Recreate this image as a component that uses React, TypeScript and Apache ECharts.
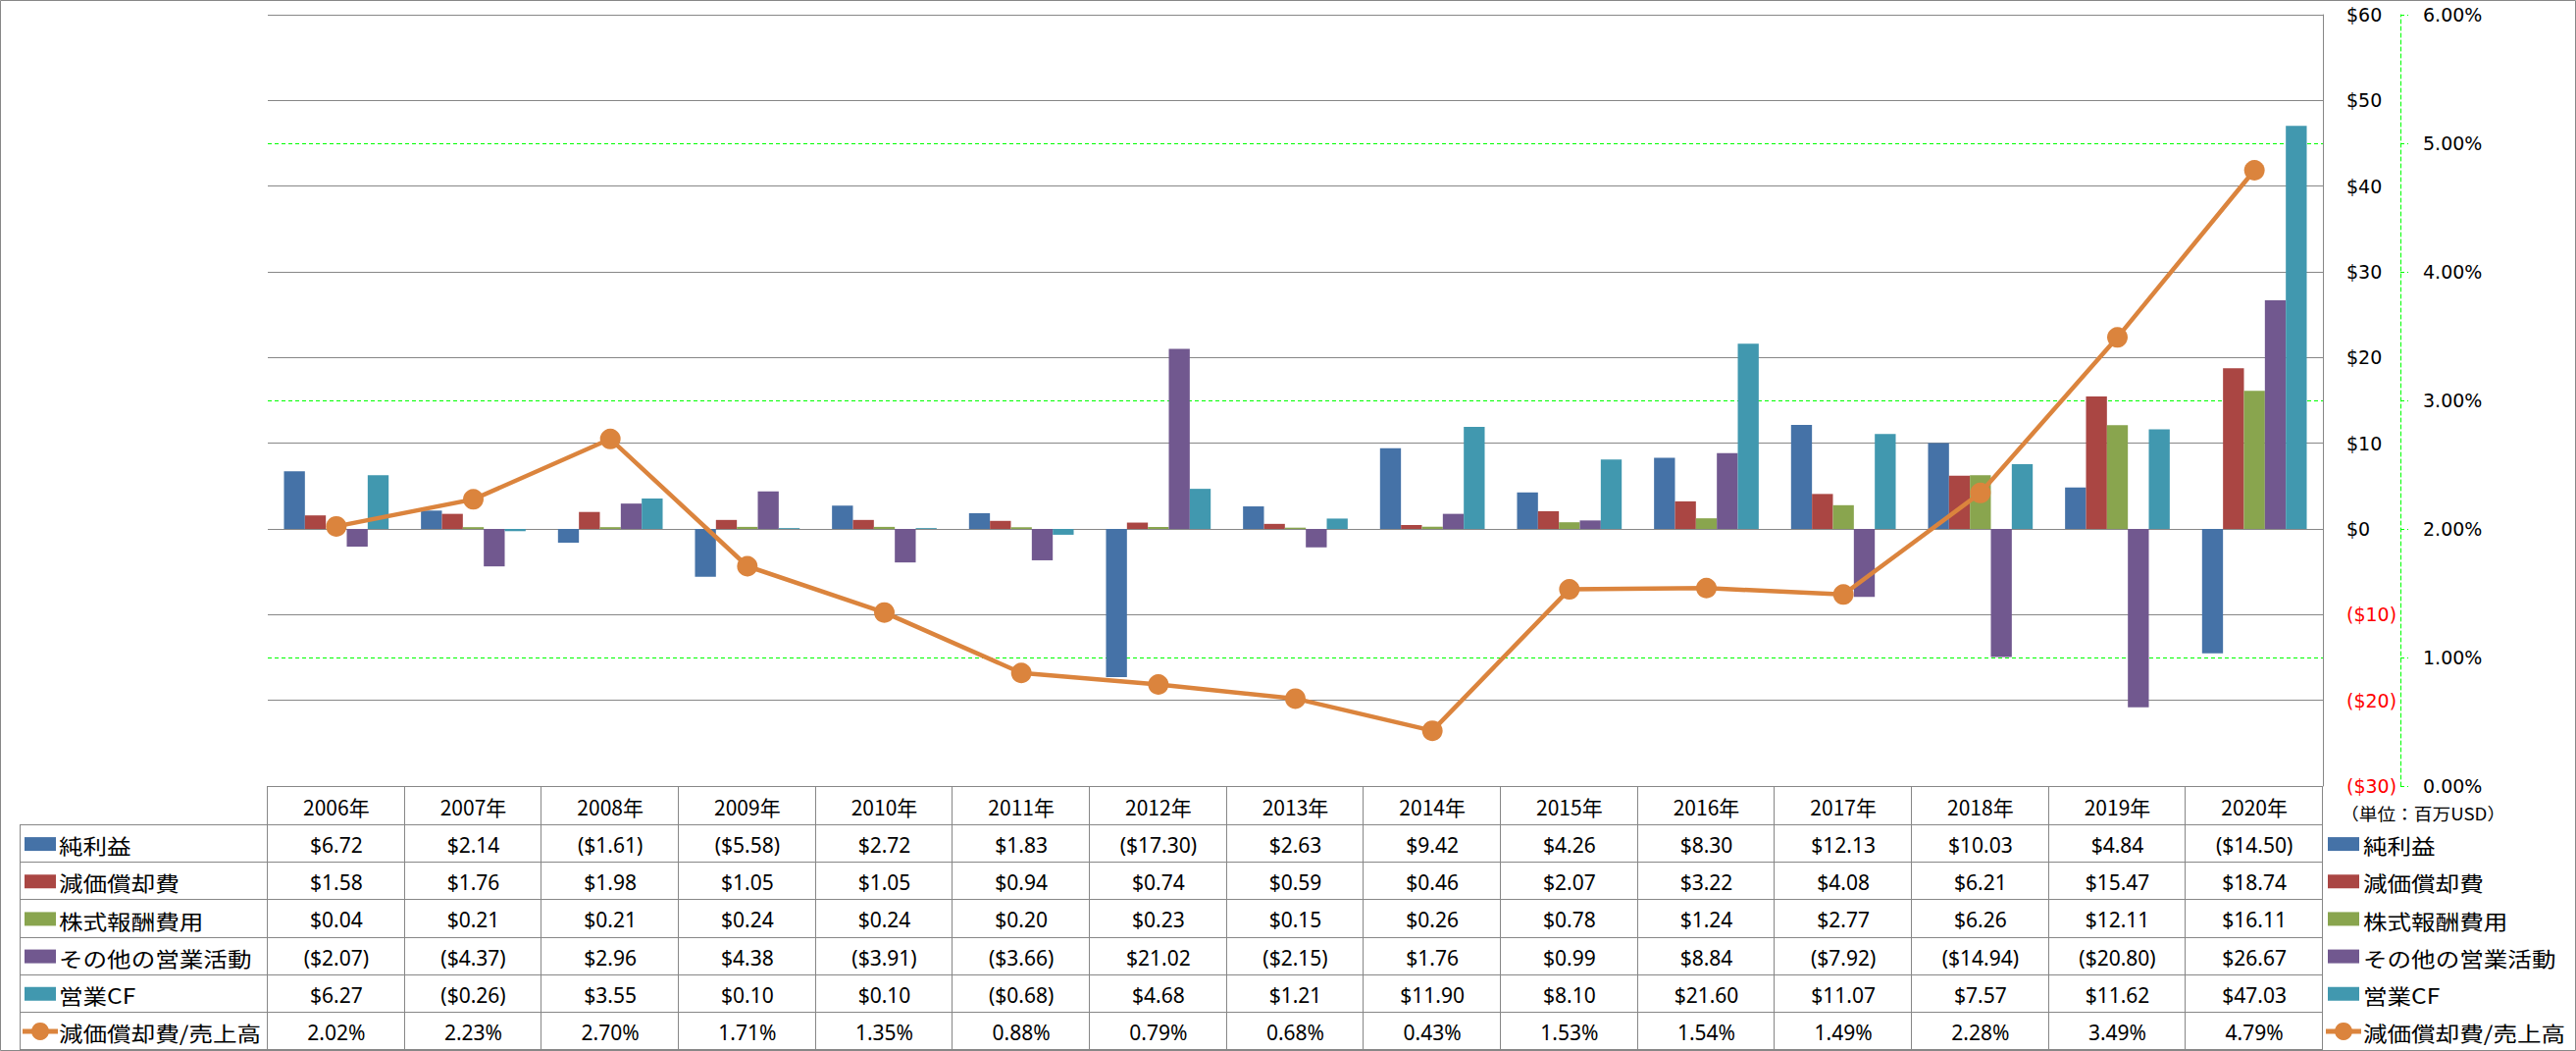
import React, { useEffect, useRef } from "react";
import * as echarts from "echarts";

const years = ["2006年","2007年","2008年","2009年","2010年","2011年","2012年","2013年","2014年","2015年","2016年","2017年","2018年","2019年","2020年"];
const netIncome = [6.72, 2.14, -1.61, -5.58, 2.72, 1.83, -17.30, 2.63, 9.42, 4.26, 8.30, 12.13, 10.03, 4.84, -14.50];
const depreciation = [1.58, 1.76, 1.98, 1.05, 1.05, 0.94, 0.74, 0.59, 0.46, 2.07, 3.22, 4.08, 6.21, 15.47, 18.74];
const stockComp = [0.04, 0.21, 0.21, 0.24, 0.24, 0.20, 0.23, 0.15, 0.26, 0.78, 1.24, 2.77, 6.26, 12.11, 16.11];
const otherOps = [-2.07, -4.37, 2.96, 4.38, -3.91, -3.66, 21.02, -2.15, 1.76, 0.99, 8.84, -7.92, -14.94, -20.80, 26.67];
const operatingCF = [6.27, -0.26, 3.55, 0.10, 0.10, -0.68, 4.68, 1.21, 11.90, 8.10, 21.60, 11.07, 7.57, 11.62, 47.03];
const depToSales = [2.02, 2.23, 2.70, 1.71, 1.35, 0.88, 0.79, 0.68, 0.43, 1.53, 1.54, 1.49, 2.28, 3.49, 4.79];

const barNames = ["純利益", "減価償却費", "株式報酬費用", "その他の営業活動", "営業CF"];
const lineName = "減価償却費/売上高";
const unitLabel = "（単位：百万USD）";

const barColors = ["#4572A7", "#AA4643", "#89A54E", "#71588F", "#4198AF"];
const lineColor = "#DB843D";

const W = 2626;
const H = 1071;
const GL = 273;
const GR = 2368;
const GT = 15;
const GB = 801;
const TABLE_BOTTOM = 1070;
const HEADER_BOTTOM = 841;
const LABEL_LEFT = 20;
const GRID_COLOR = "#878787";
const TXT_FONT = "'Noto Sans', 'Noto Sans CJK JP', sans-serif";
const CJK_FONT = "'Noto Sans CJK JP', 'Noto Sans', sans-serif";

const fmtMoney = (v: number) => (v < 0 ? `($${Math.abs(v).toFixed(2)})` : `$${v.toFixed(2)}`);
const fmtPct = (v: number) => `${v.toFixed(2)}%`;

function buildGraphics() {
  const els: any[] = [];
  const n = years.length;
  const colW = (GR - GL) / n;
  const rowH = (TABLE_BOTTOM - HEADER_BOTTOM) / 6;
  const line = (x1: number, y1: number, x2: number, y2: number) =>
    els.push({ type: "line", silent: true, z: 10, shape: { x1, y1, x2, y2 }, style: { stroke: GRID_COLOR, lineWidth: 1 } });

  // outer border
  els.push({ type: "rect", silent: true, z: 0, shape: { x: 0.5, y: 0.5, width: W - 1, height: H - 1 }, style: { fill: "none", stroke: GRID_COLOR, lineWidth: 1 } });

  // horizontal table lines
  line(GL, GB + 0.5, GR, GB + 0.5);
  for (let r = 0; r <= 6; r++) {
    const y = Math.round(HEADER_BOTTOM + r * rowH) - 0.5;
    line(LABEL_LEFT, y, GR, y);
  }
  // vertical lines
  line(LABEL_LEFT + 0.5, HEADER_BOTTOM, LABEL_LEFT + 0.5, TABLE_BOTTOM);
  for (let k = 0; k <= n; k++) {
    const x = Math.round(GL + k * colW) - 0.5;
    line(x, GB, x, TABLE_BOTTOM);
  }

  // header texts
  years.forEach((y, i) => {
    els.push({ type: "text", silent: true, z: 11, x: GL + (i + 0.5) * colW, y: (GB + HEADER_BOTTOM) / 2 + 1,
      style: { text: y, fill: "#000", fontSize: 21, fontFamily: CJK_FONT, align: "center", verticalAlign: "middle" } });
  });

  const rows: { name: string; vals: string[]; color: string; isLine?: boolean }[] = [
    { name: barNames[0], vals: netIncome.map(fmtMoney), color: barColors[0] },
    { name: barNames[1], vals: depreciation.map(fmtMoney), color: barColors[1] },
    { name: barNames[2], vals: stockComp.map(fmtMoney), color: barColors[2] },
    { name: barNames[3], vals: otherOps.map(fmtMoney), color: barColors[3] },
    { name: barNames[4], vals: operatingCF.map(fmtMoney), color: barColors[4] },
    { name: lineName, vals: depToSales.map(fmtPct), color: lineColor, isLine: true },
  ];

  const key = (x: number, cy: number, color: string, isLine?: boolean) => {
    if (isLine) {
      els.push({ type: "line", silent: true, z: 11, shape: { x1: x - 2, y1: cy, x2: x + 34, y2: cy }, style: { stroke: color, lineWidth: 5 } });
      els.push({ type: "circle", silent: true, z: 12, shape: { cx: x + 16, cy, r: 9 }, style: { fill: color } });
    } else {
      els.push({ type: "rect", silent: true, z: 11, shape: { x, y: cy - 7, width: 32, height: 14 }, style: { fill: color } });
    }
  };

  rows.forEach((row, r) => {
    const cy = HEADER_BOTTOM + (r + 0.5) * rowH;
    key(25, cy, row.color, row.isLine);
    els.push({ type: "text", silent: true, z: 11, x: 60, y: cy + 1, scaleX: 1.17,
      style: { text: row.name, fill: "#000", fontSize: 21, fontFamily: CJK_FONT, align: "left", verticalAlign: "middle" } });
    row.vals.forEach((v, i) => {
      els.push({ type: "text", silent: true, z: 11, x: GL + (i + 0.5) * colW, y: cy + 1,
        style: { text: v, fill: "#000", fontSize: 21, fontFamily: TXT_FONT, align: "center", verticalAlign: "middle" } });
    });
    // right legend
    key(2373, cy, row.color, row.isLine);
    els.push({ type: "text", silent: true, z: 11, x: 2409, y: cy + 1, scaleX: 1.17,
      style: { text: row.name, fill: "#000", fontSize: 21, fontFamily: CJK_FONT, align: "left", verticalAlign: "middle" } });
  });

  els.push({ type: "text", silent: true, z: 11, x: 2386, y: 828, scaleX: 1.1,
    style: { text: unitLabel, fill: "#000", fontSize: 17, fontFamily: CJK_FONT, align: "left", verticalAlign: "middle" } });

  return els;
}

export default function App() {
  const ref = useRef<HTMLDivElement>(null);
  useEffect(() => {
    if (!ref.current) return;
    const chart = echarts.init(ref.current, undefined, { renderer: "svg" });
    const barSeries = [netIncome, depreciation, stockComp, otherOps, operatingCF].map((d, i) => ({
      name: barNames[i],
      type: "bar",
      data: d,
      yAxisIndex: 0,
      barGap: "0%",
      barCategoryGap: "23.6%",
      itemStyle: { color: barColors[i] },
      z: 2,
    }));
    chart.setOption({
      animation: false,
      backgroundColor: "#fff",
      grid: { left: GL, top: GT, width: GR - GL, height: GB - GT, containLabel: false },
      xAxis: {
        type: "category",
        data: years,
        boundaryGap: true,
        axisLine: { show: false },
        axisTick: { show: false },
        axisLabel: { show: false },
        splitLine: { show: false },
      },
      yAxis: [
        {
          type: "value",
          position: "right",
          min: -30,
          max: 60,
          interval: 10,
          z: 1,
          axisLine: { show: true, lineStyle: { color: GRID_COLOR, width: 1 } },
          axisTick: { show: false },
          axisLabel: {
            margin: 24,
            fontSize: 19,
            fontFamily: "'DejaVu Sans', sans-serif",
            color: "#000",
            formatter: (v: number) => (v < 0 ? `{r|($${Math.abs(v)})}` : `$${v}`),
            rich: { r: { color: "#FF0000", fontSize: 19, fontFamily: "'DejaVu Sans', sans-serif" } },
          },
          splitLine: { show: true, lineStyle: { color: GRID_COLOR, width: 1 } },
        },
        {
          type: "value",
          position: "right",
          offset: 2447 - GR,
          min: 0,
          max: 6,
          interval: 1,
          z: 0,
          axisLine: { show: true, lineStyle: { color: "#00FF00", width: 1, type: [4, 3] } },
          axisTick: { show: true, length: 8, lineStyle: { color: "#00FF00", width: 1, type: [4, 3] } },
          axisLabel: {
            margin: 23,
            fontSize: 19,
            fontFamily: "'DejaVu Sans', sans-serif",
            color: "#000",
            formatter: (v: number) => `${v.toFixed(2)}%`,
          },
          splitLine: { show: true, lineStyle: { color: "#00FF00", width: 1, type: [4, 3] } },
        },
      ],
      series: [
        ...barSeries,
        {
          name: lineName,
          type: "line",
          yAxisIndex: 1,
          data: depToSales,
          symbol: "circle",
          symbolSize: 21,
          lineStyle: { color: lineColor, width: 4.5 },
          itemStyle: { color: lineColor },
          z: 3,
        },
      ],
      graphic: buildGraphics(),
    });
    return () => chart.dispose();
  }, []);
  return <div ref={ref} style={{ position: "fixed", left: 0, top: 0, width: W, height: H }} />;
}
